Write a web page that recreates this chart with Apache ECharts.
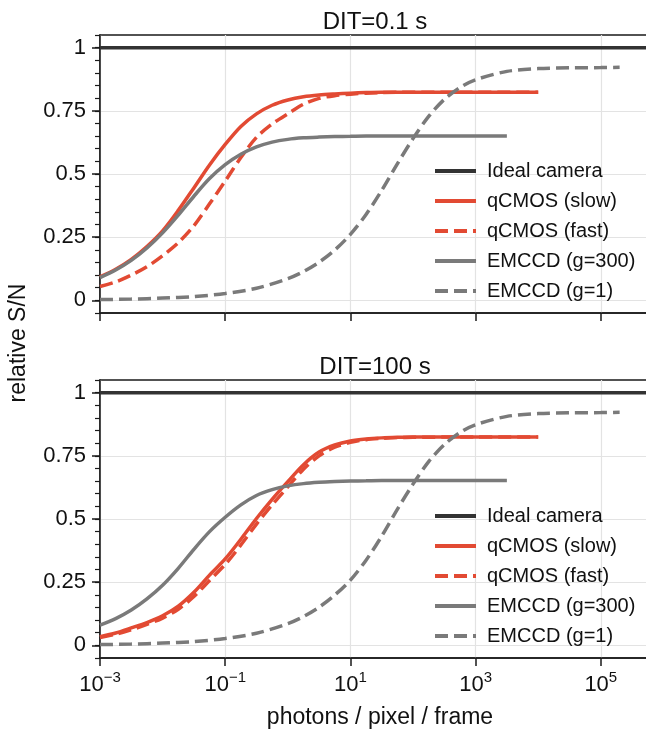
<!DOCTYPE html>
<html><head><meta charset="utf-8">
<script src="https://cdn.jsdelivr.net/npm/echarts@6/dist/echarts.min.js"></script>
<style>html,body{margin:0;padding:0;background:#fff}#c{width:646px;height:734px}</style>
</head><body><div id="c"></div>
<script>
// ---------------- data ----------------
const panelTitles = ['DIT=0.1 s', 'DIT=100 s'];
const seriesNames = ['Ideal camera', 'qCMOS (slow)', 'qCMOS (fast)', 'EMCCD (g=300)', 'EMCCD (g=1)'];
const xLimits = [0.001, 883000];
const xTickExponents = [-3, -1, 1, 3, 5];
const yTicks = [0, 0.25, 0.5, 0.75, 1];
const yLimits = [-0.05, 1.05];
const idealLevel = 1;

// photons / pixel / frame sample positions
const photonsQ = [0.001, 0.00178, 0.00316, 0.00562, 0.01, 0.0178, 0.0316, 0.0562, 0.1, 0.178, 0.316, 0.562,
  1, 1.78, 3.16, 5.62, 10, 17.8, 31.6, 56.2, 100, 316, 1000, 3162, 10000];
const photonsE300 = [0.001, 0.00178, 0.00316, 0.00562, 0.01, 0.0178, 0.0316, 0.0562, 0.1, 0.178, 0.316, 0.562,
  1, 1.78, 3.16, 5.62, 10, 17.8, 31.6, 56.2, 100, 316, 1000, 3162];
const photonsE1 = [0.001, 0.00316, 0.01, 0.0316, 0.1, 0.316, 1, 1.78, 3.16, 5.62, 10, 17.8, 31.6, 56.2,
  100, 178, 316, 562, 1000, 3162, 10000, 31623, 100000, 200000];

// DIT = 0.1 s
const fastQSlow = [0.093, 0.123, 0.162, 0.213, 0.275, 0.356, 0.445, 0.536, 0.617, 0.688, 0.738, 0.772,
  0.793, 0.806, 0.813, 0.817, 0.820, 0.822, 0.823, 0.823, 0.823, 0.823, 0.823, 0.823, 0.823];
const fastQFast = [0.055, 0.073, 0.100, 0.133, 0.177, 0.228, 0.295, 0.382, 0.472, 0.565, 0.645, 0.698,
  0.738, 0.776, 0.799, 0.810, 0.816, 0.820, 0.822, 0.823, 0.823, 0.823, 0.823, 0.823, 0.823];
const fastE300 = [0.090, 0.120, 0.158, 0.207, 0.267, 0.337, 0.412, 0.482, 0.537, 0.578, 0.607, 0.626,
  0.637, 0.643, 0.646, 0.648, 0.649, 0.650, 0.650, 0.650, 0.650, 0.650, 0.650, 0.650];
const fastE1 = [0.003, 0.005, 0.009, 0.015, 0.027, 0.048, 0.086, 0.114, 0.151, 0.199, 0.261, 0.340, 0.435, 0.540,
  0.640, 0.728, 0.795, 0.842, 0.873, 0.906, 0.917, 0.920, 0.921, 0.922];

// DIT = 100 s
const slowQSlow = [0.034, 0.049, 0.069, 0.090, 0.117, 0.155, 0.210, 0.278, 0.342, 0.420, 0.502, 0.578,
  0.648, 0.715, 0.765, 0.793, 0.809, 0.817, 0.821, 0.823, 0.824, 0.824, 0.824, 0.824, 0.824];
const slowQFast = [0.031, 0.044, 0.062, 0.083, 0.108, 0.143, 0.193, 0.257, 0.320, 0.397, 0.480, 0.556,
  0.627, 0.697, 0.750, 0.784, 0.803, 0.814, 0.819, 0.822, 0.823, 0.824, 0.824, 0.824, 0.824];
const slowE300 = [0.080, 0.106, 0.140, 0.184, 0.238, 0.305, 0.380, 0.450, 0.507, 0.556, 0.593, 0.616,
  0.631, 0.640, 0.645, 0.648, 0.650, 0.651, 0.652, 0.652, 0.652, 0.652, 0.652, 0.652];
const slowE1 = [0.003, 0.005, 0.009, 0.015, 0.027, 0.048, 0.086, 0.114, 0.151, 0.199, 0.258, 0.337, 0.432, 0.538,
  0.638, 0.727, 0.794, 0.842, 0.873, 0.906, 0.917, 0.920, 0.921, 0.922];

// ---------------- styling ----------------
const FONT = "'Liberation Sans', Arial, Helvetica, sans-serif";
const RED = '#e24a33', GRAY = '#7a7a7a', DARK = '#333333', AXIS = '#1a1a1a', GRID = '#e3e3e3';
const LW = 3.5, DASH = [13, 6];
const panels = [
  { title: panelTitles[0], top: 35, data: [fastQSlow, fastQFast, fastE300, fastE1], labels: false },
  { title: panelTitles[1], top: 380, data: [slowQSlow, slowQFast, slowE300, slowE1], labels: true }
];
const PLOT_H = 278, LEFT = 100, PLOT_W = 560;

const zip = (xs, ys) => xs.map((x, i) => [x, ys[i]]);
const supExp = v => (v < 0 ? '\u2212' + (-v) : String(v));

const grid = [], xAxis = [], yAxis = [], series = [], legend = [], graphic = [];
panels.forEach((p, k) => {
  grid.push({ left: LEFT, top: p.top, width: PLOT_W, height: PLOT_H, show: true, containLabel: false,
    outerBoundsMode: 'none',
    borderColor: AXIS, borderWidth: 1.5, backgroundColor: 'transparent' });
  // data axis (log)
  xAxis.push({ type: 'log', gridIndex: k, min: xLimits[0], max: xLimits[1], logBase: 10,
    axisLine: { show: true, onZero: false, lineStyle: { color: AXIS, width: 1.5 } },
    axisTick: { show: false }, axisLabel: { show: false }, splitLine: { show: false }, minorTick: { show: false } });
  // tick overlay in decades
  xAxis.push({ type: 'value', gridIndex: k, position: 'bottom',
    min: Math.log10(xLimits[0]), max: Math.log10(xLimits[1]), interval: 2,
    axisLine: { show: false, onZero: false },
    axisTick: { show: true, length: 8, customValues: xTickExponents, lineStyle: { color: AXIS, width: 1.5 } },
    splitLine: { show: true, lineStyle: { color: GRID, width: 1.2 } },
    axisLabel: { show: p.labels, customValues: xTickExponents, margin: 12, fontFamily: FONT, color: '#111',
      hideOverlap: false,
      formatter: v => '{b|10}{s|' + supExp(Math.round(v)) + '}',
      rich: { b: { fontSize: 22, lineHeight: 30, fontFamily: FONT, color: '#111' },
              s: { fontSize: 15, lineHeight: 15, verticalAlign: 'top', fontFamily: FONT, color: '#111' } } },
    name: p.labels ? 'photons / pixel / frame' : '', nameLocation: 'middle', nameGap: 48,
    nameTextStyle: { fontSize: 23, fontFamily: FONT, color: '#111' }
  });
  yAxis.push({ type: 'value', gridIndex: k, min: yLimits[0], max: yLimits[1], position: 'left',
    axisLine: { show: true, onZero: false, lineStyle: { color: AXIS, width: 1.5 } },
    axisTick: { show: true, length: 8, customValues: yTicks, lineStyle: { color: AXIS, width: 1.5 } },
    axisLabel: { show: true, customValues: yTicks, margin: 14, fontSize: 22, fontFamily: FONT, color: '#111',
      formatter: v => String(v) },
    splitLine: { show: true, lineStyle: { color: GRID, width: 1.2 } } });
  yAxis.push({ type: 'value', gridIndex: k, min: yLimits[0], max: yLimits[1], interval: 0.05, position: 'left', offset: 0,
    axisLine: { show: false, onZero: false }, axisLabel: { show: false }, splitLine: { show: false },
    axisTick: { show: true, length: 5, lineStyle: { color: AXIS, width: 1.2 } } });

  const xi = 2 * k, yi = 2 * k;
  const base = { type: 'line', xAxisIndex: xi, yAxisIndex: yi, symbol: 'none', showSymbol: false,
    smooth: 0.3, animation: false, silent: true };
  series.push(Object.assign({}, base, { name: seriesNames[0], smooth: false,
    data: [[xLimits[0], idealLevel], [xLimits[1], idealLevel]],
    lineStyle: { color: DARK, width: LW }, itemStyle: { color: DARK } }));
  series.push(Object.assign({}, base, { name: seriesNames[1], data: zip(photonsQ, p.data[0]),
    lineStyle: { color: RED, width: LW }, itemStyle: { color: RED } }));
  series.push(Object.assign({}, base, { name: seriesNames[2], data: zip(photonsQ, p.data[1]),
    lineStyle: { color: RED, width: LW, type: DASH }, itemStyle: { color: RED } }));
  series.push(Object.assign({}, base, { name: seriesNames[3], data: zip(photonsE300, p.data[2]),
    lineStyle: { color: GRAY, width: LW }, itemStyle: { color: GRAY } }));
  series.push(Object.assign({}, base, { name: seriesNames[4], data: zip(photonsE1, p.data[3]),
    lineStyle: { color: GRAY, width: LW, type: DASH }, itemStyle: { color: GRAY } }));

  legend.push({ data: seriesNames, orient: 'vertical', left: 433, top: p.top + 126, padding: 0,
    itemWidth: 41, itemHeight: 14, itemGap: 10, selectedMode: false,
    itemStyle: { opacity: 0, borderWidth: 0 },
    lineStyle: { width: 4 },
    textStyle: { fontSize: 20, lineHeight: 20, fontFamily: FONT, color: '#111', padding: [0, 0, 0, 6] } });

  graphic.push({ type: 'text', x: 375, y: p.top - 13, style: { text: p.title, fontSize: 24, fontFamily: FONT,
    fill: '#111', align: 'center', verticalAlign: 'middle' } });
});
graphic.push({ type: 'text', x: 19, y: 343, rotation: Math.PI / 2,
  style: { text: 'relative S/N', fontSize: 23, fontFamily: FONT, fill: '#111', align: 'center', verticalAlign: 'middle' } });

const chart = echarts.init(document.getElementById('c'), null, { renderer: 'canvas' });
chart.setOption({ animation: false, backgroundColor: '#fff', grid, xAxis, yAxis, series, legend, graphic });
</script></body></html>
